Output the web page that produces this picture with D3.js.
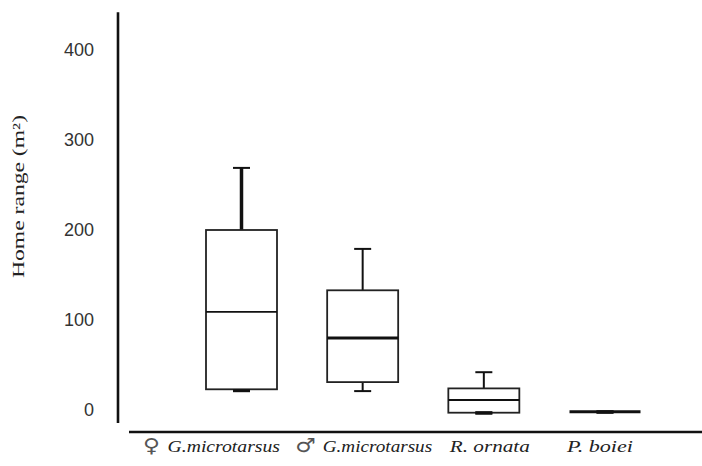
<!DOCTYPE html>
<html>
<head>
<meta charset="utf-8">
<script src="https://cdn.jsdelivr.net/npm/d3@7"></script>
<style>
  body { margin: 0; background: #fff; }
  svg { display: block; }
</style>
</head>
<body>
<svg id="Viz"></svg>
<script>
// data
let categories = ["♀ G.microtarsus", "♂ G.microtarsus", "R. ornata", "P. boiei"];
let mins    = [22, 21, -3, -2];
let q1s     = [23, 31, -3, -2];
let medians = [109, 80, 11, -2];
let q3s     = [200, 133, 24, -2];
let maxs    = [269, 179, 42, -2];
let yTicks  = [0, 100, 200, 300, 400];

// per-box line styles (the original is not uniform)
let upperWhiskerW = [3.5, 2, 2, 2];
let medianW = [1.6, 3, 2, 3];
let labelShift = [-30, 1, 6, -5];
let labelLen = [137, 137, 80, 66];

let Width = 702, Height = 466;

let vizArea = d3.select('#Viz')
  .attr("width", Width)
  .attr("height", Height);

let yScale = d3.scaleLinear().domain([0, 400]).range([410, 50]);
let xScale = d3.scalePoint().domain(categories).range([241.5, 605]);
let boxW = 71, capW = 17;

let boxes = categories.map(function(c, i) {
  return {cat: c, min: mins[i], q1: q1s[i], med: medians[i], q3: q3s[i], max: maxs[i], i: i};
});

// y axis
vizArea.append("line")
  .attr("x1", 118).attr("x2", 118)
  .attr("y1", yScale(442)).attr("y2", yScale(-14.5))
  .attr("stroke", "#111").attr("stroke-width", 2.6);

let yAxis = vizArea.append("g")
  .attr("transform", "translate(118,0)")
  .call(d3.axisLeft(yScale).tickValues(yTicks).tickSize(0).tickPadding(24));
yAxis.select(".domain").remove();
yAxis.selectAll("text")
  .attr("font-family", "Liberation Sans, Arial, sans-serif")
  .attr("font-size", 18)
  .attr("fill", "#333");

// x axis line
vizArea.append("line")
  .attr("x1", 129).attr("x2", Width)
  .attr("y1", yScale(-24.4)).attr("y2", yScale(-24.4))
  .attr("stroke", "#111").attr("stroke-width", 2.6);

// y label
vizArea.append("text")
  .attr("transform", "translate(23.5," + 196.5 + ") rotate(-90)")
  .attr("text-anchor", "middle")
  .attr("font-family", "Liberation Serif, Times New Roman, serif")
  .attr("font-size", 16)
  .attr("fill", "#222")
  .attr("textLength", 163)
  .attr("lengthAdjust", "spacingAndGlyphs")
  .text("Home range  (m²)");

// category labels: sex symbol upright, name in italics
let labels = vizArea.selectAll(".cat")
  .data(boxes)
  .enter()
  .append("text")
  .attr("class", "cat")
  .attr("x", function(d) { return xScale(d.cat) + labelShift[d.i]; })
  .attr("y", 452)
  .attr("text-anchor", "middle")
  .attr("font-family", "Liberation Serif, Times New Roman, serif")
  .attr("font-size", 16)
  .attr("fill", "#222")
  .attr("textLength", function(d) { return labelLen[d.i]; })
  .attr("lengthAdjust", "spacingAndGlyphs");

labels.each(function(d) {
  let t = d3.select(this);
  let sym = /^[♀♂]/.test(d.cat) ? d.cat.slice(0, 1) : null;
  if (sym) {
    t.append("tspan")
      .attr("font-family", "DejaVu Sans, sans-serif")
      .attr("font-size", 19)
      .attr("fill", "#555")
      .text(sym + " ");
    t.append("tspan").attr("font-style", "italic").text(d.cat.slice(2));
  } else {
    t.append("tspan").attr("font-style", "italic").text(d.cat);
  }
});

let g = vizArea.selectAll(".box")
  .data(boxes)
  .enter()
  .append("g")
  .attr("class", "box");

// upper whisker
g.append("line")
  .attr("x1", function(d) { return xScale(d.cat); })
  .attr("x2", function(d) { return xScale(d.cat); })
  .attr("y1", function(d) { return yScale(d.q3); })
  .attr("y2", function(d) { return yScale(d.max); })
  .attr("stroke", "#111")
  .attr("stroke-width", function(d) { return upperWhiskerW[d.i]; });
g.append("line")
  .attr("x1", function(d) { return xScale(d.cat) - capW / 2; })
  .attr("x2", function(d) { return xScale(d.cat) + capW / 2; })
  .attr("y1", function(d) { return yScale(d.max); })
  .attr("y2", function(d) { return yScale(d.max); })
  .attr("stroke", "#111").attr("stroke-width", 2);

// lower whisker
g.append("line")
  .attr("x1", function(d) { return xScale(d.cat); })
  .attr("x2", function(d) { return xScale(d.cat); })
  .attr("y1", function(d) { return yScale(d.q1); })
  .attr("y2", function(d) { return yScale(d.min); })
  .attr("stroke", "#111").attr("stroke-width", 2);
g.append("line")
  .attr("x1", function(d) { return xScale(d.cat) - capW / 2; })
  .attr("x2", function(d) { return xScale(d.cat) + capW / 2; })
  .attr("y1", function(d) { return yScale(d.min); })
  .attr("y2", function(d) { return yScale(d.min); })
  .attr("stroke", "#111")
  .attr("stroke-width", function(d) { return d.min === d.q1 ? 3 : 2; });

// box
g.filter(function(d) { return d.q3 > d.q1; })
  .append("rect")
  .attr("x", function(d) { return xScale(d.cat) - boxW / 2; })
  .attr("width", boxW)
  .attr("y", function(d) { return yScale(d.q3); })
  .attr("height", function(d) { return yScale(d.q1) - yScale(d.q3); })
  .attr("fill", "none")
  .attr("stroke", "#222").attr("stroke-width", 1.8);

// median
g.append("line")
  .attr("x1", function(d) { return xScale(d.cat) - boxW / 2; })
  .attr("x2", function(d) { return xScale(d.cat) + boxW / 2; })
  .attr("y1", function(d) { return yScale(d.med); })
  .attr("y2", function(d) { return yScale(d.med); })
  .attr("stroke", "#111")
  .attr("stroke-width", function(d) { return medianW[d.i]; });

// lower cap drawn again on top where it sits on the box edge
g.filter(function(d) { return d.q1 - d.min < 2; })
  .append("line")
  .attr("x1", function(d) { return xScale(d.cat) - capW / 2; })
  .attr("x2", function(d) { return xScale(d.cat) + capW / 2; })
  .attr("y1", function(d) { return yScale(d.min) + 0.5; })
  .attr("y2", function(d) { return yScale(d.min) + 0.5; })
  .attr("stroke", "#111").attr("stroke-width", 3);
</script>
</body>
</html>
